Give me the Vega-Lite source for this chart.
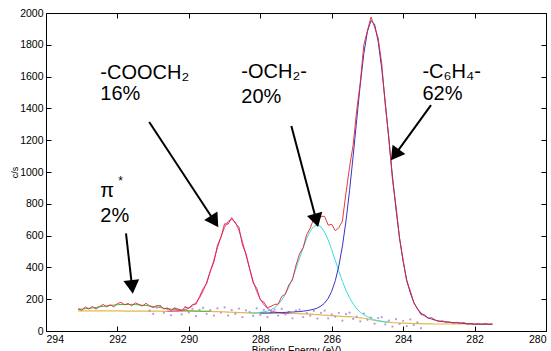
{
  "$schema": "https://vega.github.io/schema/vega-lite/v6.json",
  "width": 500,
  "height": 318,
  "autosize": {"type": "none"},
  "padding": {"left": 46, "top": 13, "right": 5, "bottom": 20},
  "config": {
    "view": {"stroke": null},
    "font": "Liberation Sans",
    "axis": {
      "grid": false,
      "domainColor": "#000",
      "tickColor": "#000",
      "labelColor": "#000",
      "titleColor": "#000",
      "labelFont": "Liberation Sans Narrow, Liberation Sans",
      "labelFontSize": 10.5,
      "tickSize": -5,
      "labelPadding": 8,
      "domainWidth": 1,
      "tickWidth": 1,
      "titleFont": "Liberation Sans",
      "titleFontWeight": "normal"
    }
  },
  "datasets": {
    "s": [
      {"e":293.1,"bg":127,"pi":136,"d":141},
      {"e":293.0,"bg":127,"pi":138,"d":130},
      {"e":292.9,"bg":127,"pi":141,"d":151},
      {"e":292.8,"bg":126,"pi":142,"d":139},
      {"e":292.7,"bg":126,"pi":145,"d":154},
      {"e":292.6,"bg":126,"pi":148,"d":138},
      {"e":292.5,"bg":126,"pi":152,"d":154},
      {"e":292.4,"bg":126,"pi":155,"d":167},
      {"e":292.3,"bg":126,"pi":158,"d":152},
      {"e":292.2,"bg":126,"pi":161,"d":165},
      {"e":292.1,"bg":126,"pi":163,"d":152},
      {"e":292.0,"bg":126,"pi":165,"d":173},
      {"e":291.9,"bg":126,"pi":167,"d":180},
      {"e":291.8,"bg":125,"pi":167,"d":165},
      {"e":291.7,"bg":125,"pi":167,"d":173},
      {"e":291.6,"bg":125,"pi":167,"d":158},
      {"e":291.5,"bg":125,"pi":166,"d":177},
      {"e":291.4,"bg":125,"pi":164,"d":167},
      {"e":291.3,"bg":125,"pi":162,"d":157},
      {"e":291.2,"bg":125,"pi":160,"d":174},
      {"e":291.1,"bg":125,"pi":157,"d":158,"r":128},
      {"e":291.0,"bg":125,"pi":154,"d":147,"r":107},
      {"e":290.9,"bg":125,"pi":151,"d":160,"r":147},
      {"e":290.8,"bg":125,"pi":147,"d":159,"r":155},
      {"e":290.7,"bg":124,"pi":143,"d":139,"r":114},
      {"e":290.6,"bg":124,"pi":140,"coo":124,"d":145,"r":137},
      {"e":290.5,"bg":124,"pi":138,"coo":125,"d":129,"r":99},
      {"e":290.4,"bg":124,"pi":135,"coo":126,"d":144,"r":142},
      {"e":290.3,"bg":124,"pi":133,"coo":127,"d":138,"r":129},
      {"e":290.2,"bg":124,"pi":131,"coo":130,"d":129,"r":104},
      {"e":290.1,"bg":124,"pi":130,"coo":135,"d":151,"r":149},
      {"e":290.0,"bg":124,"pi":128,"coo":143,"d":144,"r":117},
      {"e":289.9,"bg":124,"pi":127,"coo":158,"d":167,"r":139},
      {"e":289.8,"bg":123,"pi":126,"coo":178,"d":169,"r":93},
      {"e":289.7,"bg":123,"pi":125,"coo":209,"d":217,"r":133},
      {"e":289.6,"bg":123,"pi":124,"coo":252,"d":266,"r":145},
      {"e":289.5,"bg":123,"pi":124,"coo":307,"d":299,"r":108},
      {"e":289.4,"bg":123,"pi":124,"coo":373,"d":379,"r":131},
      {"e":289.3,"bg":122,"coo":446,"d":431,"r":97},
      {"e":289.2,"bg":122,"coo":523,"d":539,"r":142},
      {"e":289.1,"bg":121,"coo":594,"d":590,"r":116},
      {"e":289.0,"bg":120,"coo":652,"d":674,"r":148},
      {"e":288.9,"bg":119,"coo":690,"d":672,"r":97},
      {"e":288.8,"bg":118,"coo":703,"d":713,"r":131},
      {"e":288.7,"bg":117,"coo":685,"d":677,"r":107},
      {"e":288.6,"bg":116,"coo":635,"d":655,"r":141},
      {"e":288.5,"bg":115,"coo":563,"d":541,"r":87},
      {"e":288.4,"bg":114,"coo":477,"d":486,"r":129},
      {"e":288.3,"bg":114,"coo":392,"och":114,"d":395,"r":119},
      {"e":288.2,"bg":113,"coo":313,"och":114,"d":303,"r":95},
      {"e":288.1,"bg":113,"coo":249,"och":115,"d":269,"r":143},
      {"e":288.0,"bg":113,"coo":200,"och":117,"c6":113,"d":196,"r":101},
      {"e":287.9,"bg":113,"coo":166,"och":121,"c6":113,"d":182,"r":133},
      {"e":287.8,"bg":112,"coo":142,"och":125,"c6":113,"d":146,"r":87},
      {"e":287.7,"bg":112,"coo":128,"och":134,"c6":114,"d":155,"r":120},
      {"e":287.6,"bg":112,"coo":120,"och":147,"c6":115,"d":167,"r":134},
      {"e":287.5,"bg":112,"coo":116,"och":167,"c6":116,"d":169,"r":97},
      {"e":287.4,"bg":111,"coo":113,"och":194,"c6":116,"d":217,"r":139},
      {"e":287.3,"bg":111,"coo":112,"och":230,"c6":117,"d":232,"r":104},
      {"e":287.2,"bg":111,"coo":111,"och":276,"c6":119,"d":290,"r":121},
      {"e":287.1,"bg":110,"och":330,"c6":119,"d":321,"r":80},
      {"e":287.0,"bg":110,"och":393,"c6":121,"d":414,"r":128},
      {"e":286.9,"bg":109,"och":458,"c6":122,"d":486,"r":134},
      {"e":286.8,"bg":108,"och":523,"c6":125,"d":524,"r":88},
      {"e":286.7,"bg":107,"och":582,"c6":128,"d":607,"r":112},
      {"e":286.6,"bg":106,"och":629,"c6":132,"d":647,"r":96},
      {"e":286.5,"bg":104,"och":658,"c6":137,"d":709,"r":126},
      {"e":286.4,"bg":103,"och":668,"c6":145,"d":690,"r":78},
      {"e":286.3,"bg":101,"och":655,"c6":157,"d":721,"r":114},
      {"e":286.2,"bg":100,"och":623,"c6":176,"d":721,"r":128},
      {"e":286.1,"bg":98,"och":573,"c6":205,"d":666,"r":80},
      {"e":286.0,"bg":97,"och":512,"c6":250,"d":671,"r":105},
      {"e":285.9,"bg":95,"och":444,"c6":316,"d":631,"r":90},
      {"e":285.8,"bg":94,"och":377,"c6":410,"d":649,"r":114},
      {"e":285.7,"bg":92,"och":312,"c6":534,"d":692,"r":65},
      {"e":285.6,"bg":91,"och":256,"c6":693,"d":870,"r":106},
      {"e":285.5,"bg":90,"och":209,"c6":884,"d":1031,"r":115},
      {"e":285.4,"bg":88,"och":171,"c6":1101,"d":1170,"r":76},
      {"e":285.3,"bg":85,"och":140,"c6":1327,"d":1388,"r":90},
      {"e":285.2,"bg":83,"och":118,"c6":1552,"d":1562,"r":61},
      {"e":285.1,"bg":80,"och":102,"c6":1745,"d":1801,"r":110},
      {"e":285.0,"bg":77,"och":90,"c6":1884,"d":1889,"r":70},
      {"e":284.9,"bg":71,"och":79,"c6":1952,"d":1974,"r":84},
      {"e":284.8,"bg":66,"och":70,"c6":1930,"d":1912,"r":46},
      {"e":284.7,"bg":63,"och":65,"c6":1821,"d":1843,"r":81},
      {"e":284.6,"bg":60,"och":61,"c6":1651,"d":1683,"r":88},
      {"e":284.5,"bg":57,"och":57,"c6":1437,"d":1420,"r":42},
      {"e":284.4,"bg":55,"och":55,"c6":1205,"d":1216,"r":65},
      {"e":284.3,"bg":53,"c6":975,"d":955,"r":28},
      {"e":284.2,"bg":52,"c6":766,"d":784,"r":74},
      {"e":284.1,"bg":50,"c6":584,"d":580,"r":45},
      {"e":284.0,"bg":49,"c6":437,"d":446,"r":64},
      {"e":283.9,"bg":48,"c6":322,"d":311,"r":30},
      {"e":283.8,"bg":48,"c6":239,"d":254,"r":73},
      {"e":283.7,"bg":47,"c6":180,"d":176,"r":37},
      {"e":283.6,"bg":46,"c6":139,"d":142,"r":54},
      {"e":283.5,"bg":46,"c6":113,"d":102,"r":18},
      {"e":283.4,"bg":45,"c6":95,"d":103},
      {"e":283.3,"bg":45,"c6":83,"d":78},
      {"e":283.2,"bg":45,"c6":75,"d":84},
      {"e":283.1,"bg":44,"c6":68,"d":69},
      {"e":283.0,"bg":44,"c6":63,"d":59},
      {"e":282.9,"bg":44,"c6":59,"d":64},
      {"e":282.8,"bg":44,"c6":57,"d":55},
      {"e":282.7,"bg":44,"c6":55,"d":57},
      {"e":282.6,"bg":44,"c6":53,"d":49},
      {"e":282.5,"bg":44,"c6":51,"d":55},
      {"e":282.4,"bg":44,"c6":50,"d":49},
      {"e":282.3,"bg":44,"c6":48,"d":53},
      {"e":282.2,"bg":43,"c6":46,"d":43},
      {"e":282.1,"bg":43,"c6":45,"d":47},
      {"e":282.0,"bg":43,"c6":44,"d":40},
      {"e":281.9,"bg":43,"c6":43,"d":46},
      {"e":281.8,"bg":43,"c6":43,"d":41},
      {"e":281.7,"bg":43,"c6":43,"d":47},
      {"e":281.6,"bg":43,"c6":43,"d":40},
      {"e":281.5,"bg":43,"c6":43,"d":44}
    ],
    "txt": [
      {"x":292.48,"y":1585,"t":"-COOCH₂"},
      {"x":292.48,"y":1450,"t":"16%"},
      {"x":288.53,"y":1591,"t":"-OCH₂-"},
      {"x":288.53,"y":1434,"t":"20%"},
      {"x":283.46,"y":1591,"t":"-C₆H₄-"},
      {"x":283.46,"y":1453,"t":"62%"},
      {"x":292.48,"y":843,"t":"π"},
      {"x":292.48,"y":686,"t":"2%"}
    ],
    "arr": [
      {"x":291.11,"y":1314,"x2":289.28,"y2":689},
      {"x":287.13,"y":1289,"x2":286.43,"y2":695},
      {"x":283.22,"y":1421,"x2":284.23,"y2":1108},
      {"x":291.76,"y":614,"x2":291.59,"y2":277}
    ]
  },
  "resolve": {"axis": {"x": "independent", "y": "independent"}},
  "layer": [
    {
      "data": {"name": "s"},
      "mark": {"type": "line", "color": "#e6b84a", "strokeWidth": 1.2},
      "encoding": {
        "x": {"field": "e", "type": "quantitative",
              "scale": {"domain": [280, 294], "reverse": true, "nice": false, "zero": false},
              "axis": {"title": "Binding Energy (eV)", "values": [280,282,284,286,288,290,292,294], "format": "d", "titleFontSize": 10, "titlePadding": 1}},
        "y": {"field": "bg", "type": "quantitative",
              "scale": {"domain": [0, 2000], "nice": false, "zero": true},
              "axis": {"title": "c/s", "values": [0,200,400,600,800,1000,1200,1400,1600,1800,2000], "format": "d", "titleFontSize": 9, "titlePadding": 0}}
      }
    },
    {
      "data": {"name": "s"},
      "transform": [{"filter": "isValid(datum.pi)"}],
      "mark": {"type": "line", "color": "#3cbf3c", "strokeWidth": 1},
      "encoding": {
        "x": {"field": "e", "type": "quantitative",
              "axis": {"orient": "top", "labels": false, "title": null, "values": [280,282,284,286,288,290,292,294]}},
        "y": {"field": "pi", "type": "quantitative",
              "axis": {"orient": "right", "labels": false, "title": null, "values": [0,200,400,600,800,1000,1200,1400,1600,1800,2000]}}
      }
    },
    {
      "data": {"name": "s"},
      "transform": [{"filter": "isValid(datum.r)"}],
      "mark": {"type": "point", "filled": true, "color": "#a97fd4", "size": 5, "opacity": 0.8},
      "encoding": {
        "x": {"field": "e", "type": "quantitative", "axis": null},
        "y": {"field": "r", "type": "quantitative", "axis": null}
      }
    },
    {
      "data": {"name": "s"},
      "transform": [{"filter": "isValid(datum.coo)"}],
      "mark": {"type": "line", "color": "#d83fc0", "strokeWidth": 1},
      "encoding": {
        "x": {"field": "e", "type": "quantitative", "axis": null},
        "y": {"field": "coo", "type": "quantitative", "axis": null}
      }
    },
    {
      "data": {"name": "s"},
      "transform": [{"filter": "isValid(datum.och)"}],
      "mark": {"type": "line", "color": "#35dede", "strokeWidth": 1},
      "encoding": {
        "x": {"field": "e", "type": "quantitative", "axis": null},
        "y": {"field": "och", "type": "quantitative", "axis": null}
      }
    },
    {
      "data": {"name": "s"},
      "transform": [{"filter": "isValid(datum.c6)"}],
      "mark": {"type": "line", "color": "#3535c8", "strokeWidth": 1},
      "encoding": {
        "x": {"field": "e", "type": "quantitative", "axis": null},
        "y": {"field": "c6", "type": "quantitative", "axis": null}
      }
    },
    {
      "data": {"name": "s"},
      "mark": {"type": "line", "color": "#e3242b", "strokeWidth": 1, "opacity": 0.9},
      "encoding": {
        "x": {"field": "e", "type": "quantitative", "axis": null},
        "y": {"field": "d", "type": "quantitative", "axis": null}
      }
    },
    {
      "data": {"name": "arr"},
      "mark": {"type": "rule", "color": "#000", "strokeWidth": 2},
      "encoding": {
        "x": {"field": "x", "type": "quantitative", "axis": null},
        "y": {"field": "y", "type": "quantitative", "axis": null},
        "x2": {"field": "x2"},
        "y2": {"field": "y2"}
      }
    },
    {
      "data": {"values": [{"x": 289.28, "y": 689}]},
      "mark": {"type": "point", "shape": "triangle-down", "filled": true, "color": "#000", "opacity": 1, "size": 250, "angle": -33.5},
      "encoding": {
        "x": {"field": "x", "type": "quantitative", "axis": null},
        "y": {"field": "y", "type": "quantitative", "axis": null}
      }
    },
    {
      "data": {"values": [{"x": 286.43, "y": 695}]},
      "mark": {"type": "point", "shape": "triangle-down", "filled": true, "color": "#000", "opacity": 1, "size": 250, "angle": -14.8},
      "encoding": {
        "x": {"field": "x", "type": "quantitative", "axis": null},
        "y": {"field": "y", "type": "quantitative", "axis": null}
      }
    },
    {
      "data": {"values": [{"x": 284.23, "y": 1108}]},
      "mark": {"type": "point", "shape": "triangle-down", "filled": true, "color": "#000", "opacity": 1, "size": 250, "angle": 36},
      "encoding": {
        "x": {"field": "x", "type": "quantitative", "axis": null},
        "y": {"field": "y", "type": "quantitative", "axis": null}
      }
    },
    {
      "data": {"values": [{"x": 291.59, "y": 277}]},
      "mark": {"type": "point", "shape": "triangle-down", "filled": true, "color": "#000", "opacity": 1, "size": 250, "angle": -6.4},
      "encoding": {
        "x": {"field": "x", "type": "quantitative", "axis": null},
        "y": {"field": "y", "type": "quantitative", "axis": null}
      }
    },
    {
      "data": {"name": "txt"},
      "mark": {"type": "text", "align": "left", "baseline": "alphabetic", "fontSize": 20, "font": "Liberation Sans", "color": "#000"},
      "encoding": {
        "x": {"field": "x", "type": "quantitative", "axis": null},
        "y": {"field": "y", "type": "quantitative", "axis": null},
        "text": {"field": "t"}
      }
    },
    {
      "data": {"values": [{"x": 291.98, "y": 918, "t": "*"}]},
      "mark": {"type": "text", "align": "left", "baseline": "alphabetic", "fontSize": 12, "font": "Liberation Sans", "color": "#000"},
      "encoding": {
        "x": {"field": "x", "type": "quantitative", "axis": null},
        "y": {"field": "y", "type": "quantitative", "axis": null},
        "text": {"field": "t"}
      }
    }
  ]
}
